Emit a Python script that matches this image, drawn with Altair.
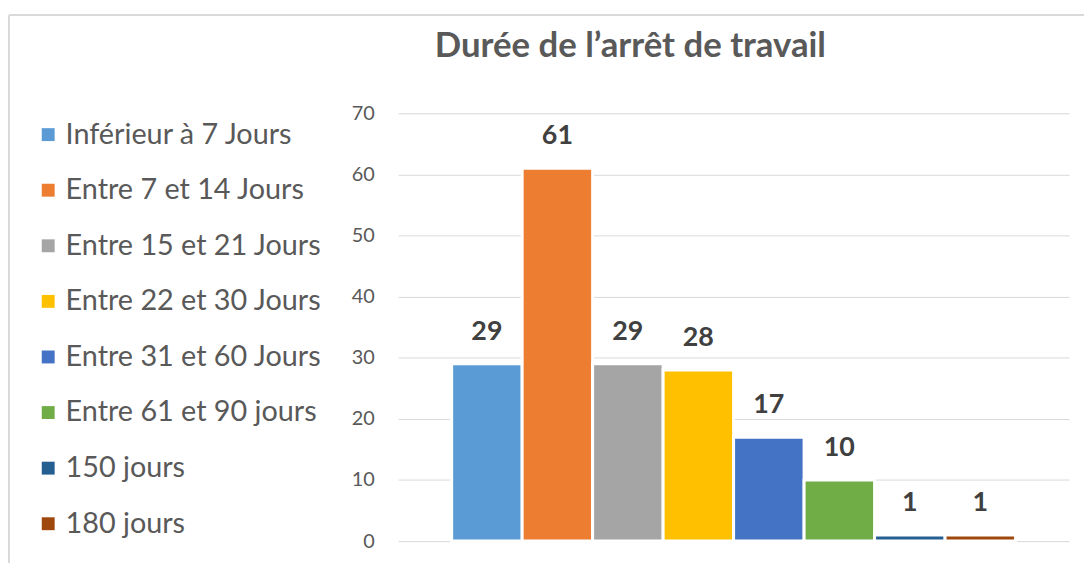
import altair as alt
import pandas as pd

categories = ["Inférieur à 7 Jours", "Entre 7 et 14 Jours", "Entre 15 et 21 Jours",
              "Entre 22 et 30 Jours", "Entre 31 et 60 Jours", "Entre 61 et 90 jours",
              "150 jours", "180 jours"]
values = [29, 61, 29, 28, 17, 10, 1, 1]
colors = ["#5B9BD5", "#ED7D31", "#A5A5A5", "#FFC000", "#4472C4", "#70AD47", "#255E91", "#9E480E"]
y_ticks = [0, 10, 20, 30, 40, 50, 60, 70]
title_text = "Durée de l’arrêt de travail"

df = pd.DataFrame({"cat": categories, "val": values})

FONT = "Lato"
GRAY = "#595959"

x_enc = alt.X("cat:N", sort=categories, axis=None,
              scale=alt.Scale(paddingInner=0, paddingOuter=0.76))
y_enc = alt.Y("val:Q", scale=alt.Scale(domain=[0, 70], nice=False),
              axis=alt.Axis(values=y_ticks, title=None, domain=False, ticks=False,
                            labelFont=FONT, labelFontSize=20, labelColor=GRAY,
                            labelPadding=24, gridColor="#D9D9D9", gridWidth=1))

base = alt.Chart(df)

bars = base.mark_bar(stroke="white", strokeWidth=3).encode(
    x=x_enc,
    y=y_enc,
    color=alt.Color("cat:N", sort=categories,
                    scale=alt.Scale(domain=categories, range=colors),
                    legend=alt.Legend(title=None, orient="none", legendX=-367, legendY=7,
                                      symbolType="square", symbolSize=169,
                                      symbolStrokeWidth=0, labelFont=FONT,
                                      labelFontSize=29, labelColor=GRAY,
                                      labelOffset=3, rowPadding=26, labelLimit=400,
                                      padding=0)),
)

labels = base.mark_text(font=FONT, fontSize=27, fontWeight="bold", color="#404040",
                        baseline="bottom", dy=-18).encode(
    x=x_enc,
    y=alt.Y("val:Q"),
    text=alt.Text("val:Q", format=".0f"),
)

frame_df = pd.DataFrame({"a": [0]})
left_border = alt.Chart(frame_df).mark_rule(color="#D9D9D9", strokeWidth=2).encode(
    x=alt.value(-392), y=alt.value(-99), y2=alt.value(460))
top_border = alt.Chart(frame_df).mark_rule(color="#D9D9D9", strokeWidth=2).encode(
    x=alt.value(-392), x2=alt.value(720), y=alt.value(-99))
title = alt.Chart(pd.DataFrame({"t": [title_text]})).mark_text(
    font=FONT, fontSize=35, fontWeight="bold", color=GRAY, align="center",
    baseline="alphabetic").encode(x=alt.value(234), y=alt.value(-57), text="t:N")

chart = alt.layer(left_border, top_border, title, bars, labels).properties(
    width=676, height=431,
    autosize=alt.AutoSizeParams(type="none"),
    padding={"left": 393, "top": 104, "right": 15, "bottom": 20},
).configure_view(stroke=None)

chart.save("out.html", embed_options={"renderer": "svg", "actions": False})
